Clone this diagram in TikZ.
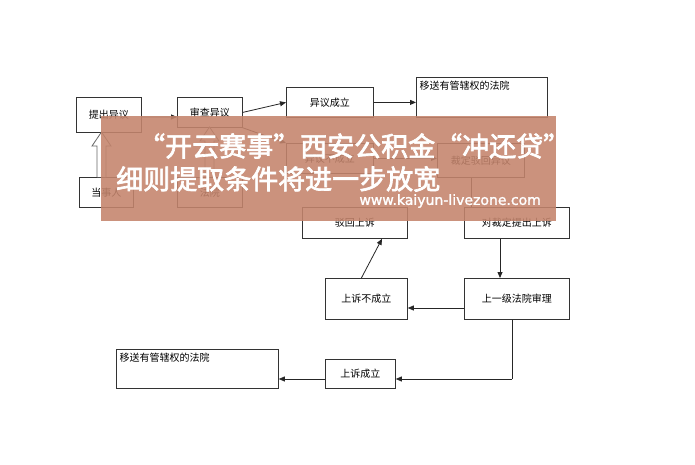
\documentclass[tikz,border=0pt]{standalone}
\usepackage{fontspec}
\newfontfamily\cjk{Noto Sans CJK SC}
\newfontfamily\cjkb{Noto Sans CJK SC}[FakeBold=2.5]
\newfontfamily\urlfont{DejaVu Sans}[FakeBold=1.5]
\usetikzlibrary{arrows.meta}
\definecolor{banner}{RGB}{196,132,108}
\tikzset{
  box/.style={draw=black!80, line width=0.8pt, anchor=north west, font=\cjk\fontsize{10}{12}\selectfont, inner sep=2pt},
  conn/.style={draw=black!85, line width=0.8pt, -{Triangle[length=6pt,width=5pt]}},
  plain/.style={draw=black!85, line width=0.8pt},
  hollowshape/.style={draw=black!60, line width=0.8pt, fill=white},
}
\begin{document}
\begin{tikzpicture}[x=1pt,y=-1pt]
\useasboundingbox (0,0) rectangle (695,465);
\fill[white] (0,0) rectangle (695,465);
\node[box, minimum width=65, minimum height=35] (tc) at (76,97) {提出异议};
\node[box, minimum width=65, minimum height=30] (sc) at (177,97) {审查异议};
\node[box, minimum width=87, minimum height=30] (cl) at (286,87) {异议成立};
\node[box, minimum width=131, minimum height=40, label={[font=\cjk\fontsize{10}{12}\selectfont,anchor=north west]north west:移送有管辖权的法院}] (ys1) at (416,77) {};
\node[box, minimum width=54, minimum height=30] (dsr) at (79,177) {当事人};
\node[box, minimum width=65, minimum height=30] (fy) at (177,177) {法院};
\node[box, minimum width=87, minimum height=30] (bcl) at (286,143) {异议不成立};
\node[box, minimum width=87, minimum height=34] (cd) at (437,143) {裁定驳回异议};
\node[box, minimum width=105, minimum height=31] (bh) at (302,207) {驳回上诉};
\node[box, minimum width=105, minimum height=31] (dcd) at (464,207) {对裁定提出上诉};
\node[box, minimum width=82, minimum height=41] (ssbcl) at (325,278) {上诉不成立};
\node[box, minimum width=105, minimum height=41] (syj) at (464,278) {上一级法院审理};
\node[box, minimum width=162, minimum height=39, label={[font=\cjk\fontsize{10}{12}\selectfont,anchor=north west]north west:移送有管辖权的法院}] (ys2) at (116,349) {};
\node[box, minimum width=70, minimum height=29] (sscl) at (325,359) {上诉成立};
% connectors
\draw[conn] (tc.east) ++(0,2) -- (sc.west |- 0,117);
\draw[conn] (sc.east) -- (cl.west);
\draw[conn] (sc.south east) -- (bcl.north west);
\draw[conn] (cl.east) -- (ys1.west |- cl.east);
\draw[conn] (bcl.east) -- (cd.west |- bcl.east);
\draw[plain] (cd.south) ++(-10,0) coordinate (c1) -- (c1 |- dcd.north);
\draw[conn] (dcd.south -| 500,0) -- (syj.north -| 500,0);
\draw[conn] (syj.west |- 0,308) -- (ssbcl.east |- 0,308);
\draw[conn] (ssbcl.north) ++(-5,0) coordinate (c2) -- (bh.south -| 382,0);
\draw[plain] (syj.south -| 512,0) coordinate (c3) -- (512,379) coordinate (c4);
\draw[conn] (c4) -- (sscl.east |- c4);
\draw[conn] (sscl.west |- c4) -- (ys2.east |- c4);
% hollow block arrows
\draw[hollowshape] (97,177) -- (97,146) -- (92,146) -- (101.5,132) -- (111,146) -- (106,146) -- (106,177);
\draw[hollowshape] (205,177) -- (205,141) -- (200,141) -- (209.5,127) -- (219,141) -- (214,141) -- (214,177);
% banner
\fill[banner, opacity=0.88] (101,116) rectangle (556,221);
\node[font=\cjkb\fontsize{27}{29}\selectfont, text=white, anchor=west, inner sep=0] (t1) at (138,146) {“开云赛事”西安公积金“冲还贷”};
\node[font=\cjkb\fontsize{27}{29}\selectfont, text=white, anchor=west, inner sep=0] (t2) at (116,179) {细则提取条件将进一步放宽};
\node[font=\urlfont\fontsize{14}{16}\selectfont, text=white, anchor=east, inner sep=0] (t3) at (541,201) {www.kaiyun-livezone.com};
\end{tikzpicture}
\end{document}
